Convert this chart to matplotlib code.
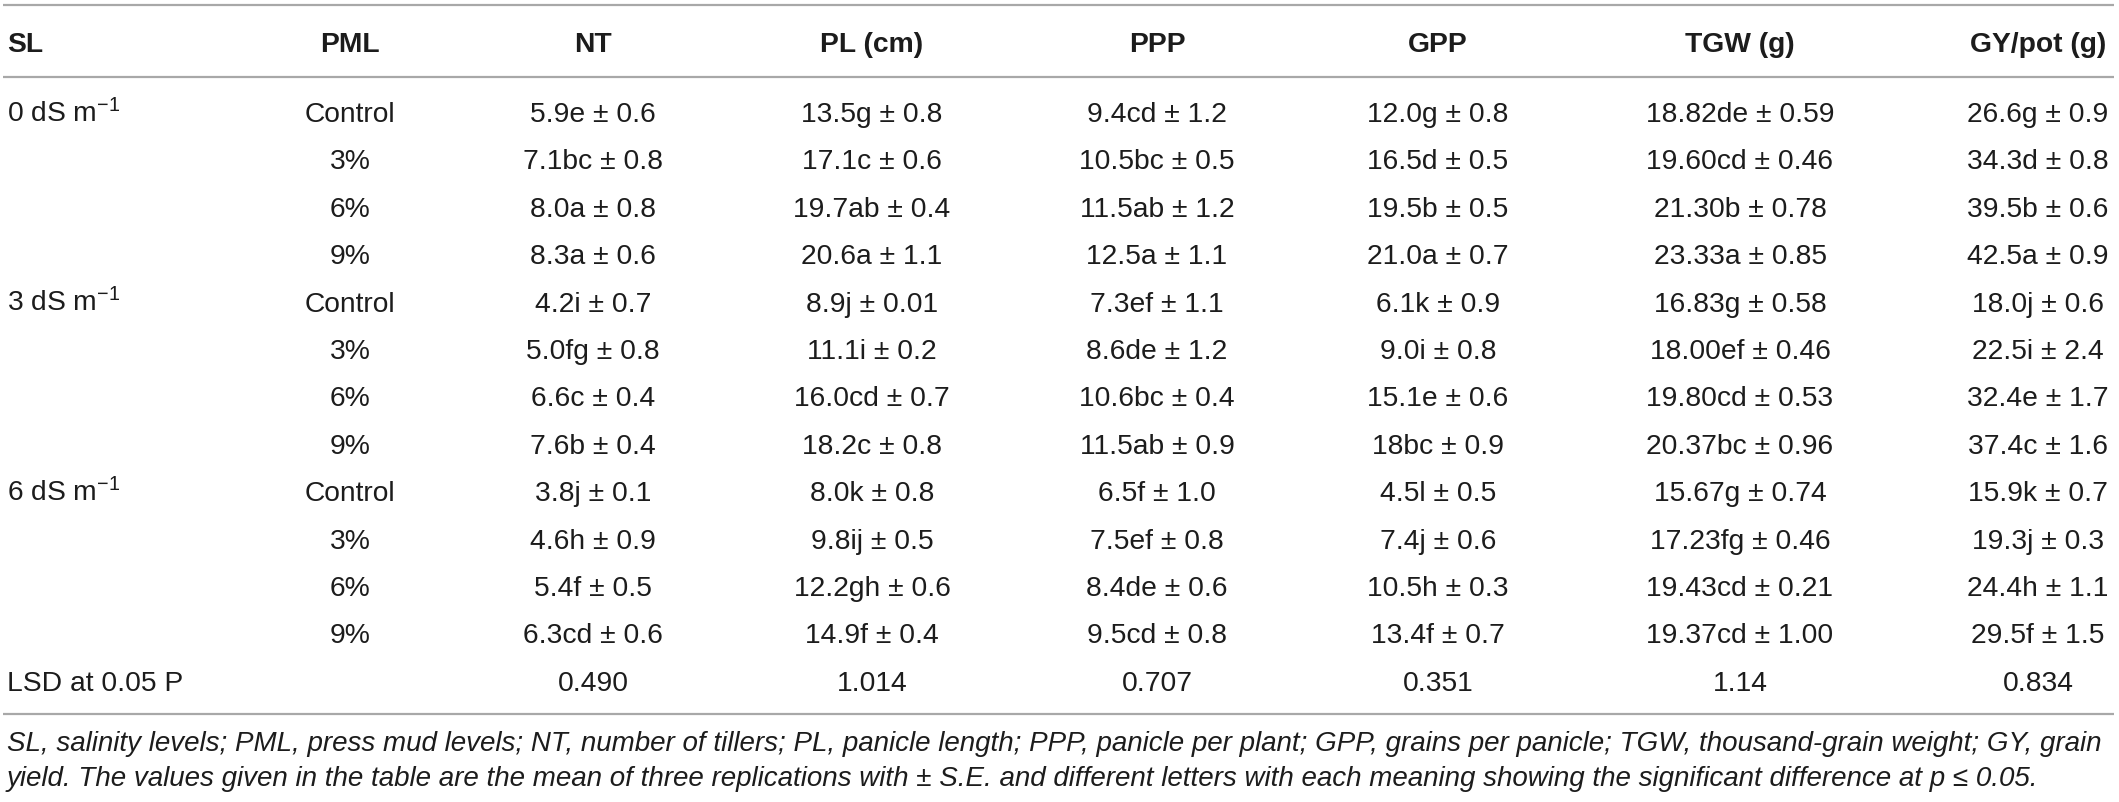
import matplotlib
matplotlib.use("Agg")
import matplotlib.pyplot as plt

plt.rcParams['font.family'] = ['Liberation Sans', 'DejaVu Sans']
plt.rcParams['mathtext.fontset'] = 'custom'
plt.rcParams['mathtext.rm'] = 'Liberation Sans'
plt.rcParams['mathtext.it'] = 'Liberation Sans:italic'
plt.rcParams['mathtext.bf'] = 'Liberation Sans:bold'

# ---------------- data ----------------
headers = ["SL", "PML", "NT", "PL (cm)", "PPP", "GPP", "TGW (g)", "GY/pot (g)"]
sl_levels = ["0 dS m$^{-1}$", "3 dS m$^{-1}$", "6 dS m$^{-1}$"]
pml_levels = ["Control", "3%", "6%", "9%"]

nt_mean = ["5.9", "7.1", "8.0", "8.3", "4.2", "5.0", "6.6", "7.6", "3.8", "4.6", "5.4", "6.3"]
nt_let = ["e", "bc", "a", "a", "i", "fg", "c", "b", "j", "h", "f", "cd"]
nt_se = ["0.6", "0.8", "0.8", "0.6", "0.7", "0.8", "0.4", "0.4", "0.1", "0.9", "0.5", "0.6"]

pl_mean = ["13.5", "17.1", "19.7", "20.6", "8.9", "11.1", "16.0", "18.2", "8.0", "9.8", "12.2", "14.9"]
pl_let = ["g", "c", "ab", "a", "j", "i", "cd", "c", "k", "ij", "gh", "f"]
pl_se = ["0.8", "0.6", "0.4", "1.1", "0.01", "0.2", "0.7", "0.8", "0.8", "0.5", "0.6", "0.4"]

ppp_mean = ["9.4", "10.5", "11.5", "12.5", "7.3", "8.6", "10.6", "11.5", "6.5", "7.5", "8.4", "9.5"]
ppp_let = ["cd", "bc", "ab", "a", "ef", "de", "bc", "ab", "f", "ef", "de", "cd"]
ppp_se = ["1.2", "0.5", "1.2", "1.1", "1.1", "1.2", "0.4", "0.9", "1.0", "0.8", "0.6", "0.8"]

gpp_mean = ["12.0", "16.5", "19.5", "21.0", "6.1", "9.0", "15.1", "18", "4.5", "7.4", "10.5", "13.4"]
gpp_let = ["g", "d", "b", "a", "k", "i", "e", "bc", "l", "j", "h", "f"]
gpp_se = ["0.8", "0.5", "0.5", "0.7", "0.9", "0.8", "0.6", "0.9", "0.5", "0.6", "0.3", "0.7"]

tgw_mean = ["18.82", "19.60", "21.30", "23.33", "16.83", "18.00", "19.80", "20.37", "15.67", "17.23", "19.43", "19.37"]
tgw_let = ["de", "cd", "b", "a", "g", "ef", "cd", "bc", "g", "fg", "cd", "cd"]
tgw_se = ["0.59", "0.46", "0.78", "0.85", "0.58", "0.46", "0.53", "0.96", "0.74", "0.46", "0.21", "1.00"]

gy_mean = ["26.6", "34.3", "39.5", "42.5", "18.0", "22.5", "32.4", "37.4", "15.9", "19.3", "24.4", "29.5"]
gy_let = ["g", "d", "b", "a", "j", "i", "e", "c", "k", "j", "h", "f"]
gy_se = ["0.9", "0.8", "0.6", "0.9", "0.6", "2.4", "1.7", "1.6", "0.7", "0.3", "1.1", "1.5"]

lsd_label = "LSD at 0.05 P"
lsd_values = ["0.490", "1.014", "0.707", "0.351", "1.14", "0.834"]

caption_lines = [
    "SL, salinity levels; PML, press mud levels; NT, number of tillers; PL, panicle length; "
    "PPP, panicle per plant; GPP, grains per panicle; TGW, thousand-grain weight; GY, grain",
    "yield. The values given in the table are the mean of three replications with \u00b1 S.E. and "
    "different letters with each meaning showing the significant difference at p \u2264 0.05.",
]

# ---------------- layout ----------------
W, H = 2119, 802
fig = plt.figure(figsize=(W / 100, H / 100), dpi=100)
ax = fig.add_axes([0, 0, 1, 1])
ax.set_xlim(0, W)
ax.set_ylim(H, 0)
ax.axis('off')

txt_color = "#1c1c1c"
line_color = "#a8a8a8"
fs = 20.3
cap_px = 0.716 * fs * 100 / 72  # cap height in pixels

col_x = [7, 350, 593, 872, 1157, 1438, 1740, 2038]
header_y = 42
row_y0 = 112
row_dy = 47.4

# rules
for yy in (5, 77, 714):
    ax.plot([3, 2114], [yy, yy], color=line_color, lw=1.6, solid_capstyle='butt')

# header
for i, h in enumerate(headers):
    ha = 'left' if i == 0 else 'center'
    ax.text(col_x[i], header_y + cap_px / 2, h, ha=ha, va='baseline',
            fontsize=fs, fontweight='bold', color=txt_color)

columns = [
    (nt_mean, nt_let, nt_se),
    (pl_mean, pl_let, pl_se),
    (ppp_mean, ppp_let, ppp_se),
    (gpp_mean, gpp_let, gpp_se),
    (tgw_mean, tgw_let, tgw_se),
    (gy_mean, gy_let, gy_se),
]

for r in range(12):
    yb = row_y0 + r * row_dy + cap_px / 2
    if r % 4 == 0:
        ax.text(col_x[0], yb, sl_levels[r // 4], ha='left', va='baseline',
                fontsize=fs, color=txt_color)
    ax.text(col_x[1], yb, pml_levels[r % 4], ha='center', va='baseline',
            fontsize=fs, color=txt_color)
    for c, (m, l, s) in enumerate(columns):
        ax.text(col_x[c + 2], yb, f"{m[r]}{l[r]} \u00b1 {s[r]}", ha='center',
                va='baseline', fontsize=fs, color=txt_color)

# LSD row
yb = row_y0 + 12 * row_dy + cap_px / 2
ax.text(col_x[0], yb, lsd_label, ha='left', va='baseline', fontsize=fs, color=txt_color)
for c, v in enumerate(lsd_values):
    ax.text(col_x[c + 2], yb, v, ha='center', va='baseline', fontsize=fs, color=txt_color)

# caption (size fitted so first line spans the table width)
cap_fs = 20.0
cap_y = [741, 776]
t0 = ax.text(7, cap_y[0], caption_lines[0], ha='left', va='baseline',
             fontsize=cap_fs, style='italic', color=txt_color)
fig.canvas.draw()
bb = t0.get_window_extent()
target = 2100 - 7
cap_fs = cap_fs * target / bb.width
t0.remove()
ccap = 0.716 * cap_fs * 100 / 72
for line, yy in zip(caption_lines, cap_y):
    ax.text(7, yy + ccap / 2, line, ha='left', va='baseline',
            fontsize=cap_fs, style='italic', color=txt_color)

fig.savefig("out.png", dpi=100, facecolor='white')
